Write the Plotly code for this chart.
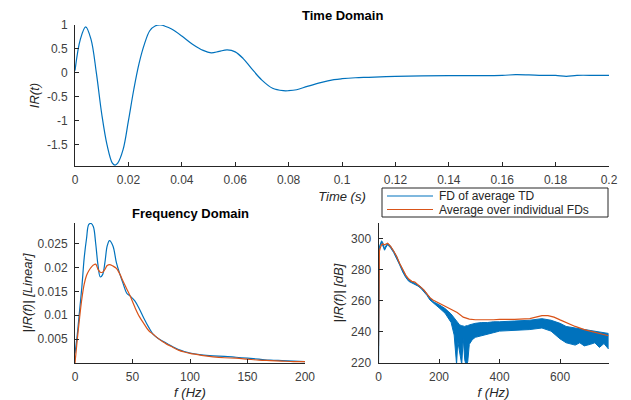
import plotly.graph_objects as go

# colours (matlab default order)
BLUE = "#0072BD"
ORANGE = "#D95319"

# time domain
t = [0, 0.002, 0.004, 0.006, 0.008, 0.010, 0.012, 0.014, 0.015, 0.016, 0.018, 0.020,
     0.022, 0.024, 0.026, 0.028, 0.030, 0.032, 0.034, 0.036, 0.040, 0.044, 0.048, 0.051,
     0.054, 0.057, 0.060, 0.063, 0.066, 0.070, 0.074, 0.078, 0.080, 0.083, 0.087, 0.092,
     0.097, 0.100, 0.105, 0.110, 0.120, 0.130, 0.140, 0.150, 0.160, 0.165, 0.170, 0.175,
     0.180, 0.184, 0.188, 0.195, 0.200]
ir_t = [0.05, 0.7, 0.96, 0.7, 0.0, -0.85, -1.5, -1.88, -1.92, -1.88, -1.6, -1.0,
        -0.35, 0.2, 0.6, 0.88, 0.98, 1.0, 0.97, 0.92, 0.77, 0.6, 0.47, 0.42,
        0.45, 0.48, 0.44, 0.3, 0.1, -0.15, -0.32, -0.37, -0.37, -0.35, -0.28, -0.2,
        -0.14, -0.12, -0.1, -0.09, -0.07, -0.06, -0.055, -0.055, -0.05, -0.035, -0.04, -0.05,
        -0.05, -0.07, -0.05, -0.05, -0.05]

# frequency domain, linear
f_lin = [0, 2, 4, 6, 8, 10, 12, 14, 16, 18, 20, 22, 24, 26, 28, 30, 33, 36, 39, 42, 45,
         48, 52, 56, 60, 64, 68, 72, 76, 80, 85, 90, 95, 100, 110, 120, 130, 140, 150,
         160, 170, 180, 190, 200]
lin_td = [0.002, 0.006, 0.011, 0.016, 0.022, 0.026, 0.029, 0.0292, 0.0285, 0.025, 0.0205,
          0.018, 0.0185, 0.021, 0.0245, 0.0256, 0.0245, 0.021, 0.0186, 0.0165, 0.0146,
          0.014, 0.013, 0.0113, 0.0093, 0.0075, 0.006, 0.0052, 0.0046, 0.0041, 0.0034,
          0.0028, 0.0024, 0.0021, 0.0017, 0.0015, 0.0014, 0.0012, 0.0010, 0.0008, 0.0006,
          0.0005, 0.0004, 0.0003]
lin_fd = [0.0, 0.005, 0.0095, 0.0135, 0.0165, 0.0183, 0.0193, 0.02, 0.0205, 0.0207, 0.0196,
          0.019, 0.019, 0.0196, 0.0204, 0.0206, 0.0203, 0.0198, 0.0186, 0.017, 0.0155,
          0.014, 0.0117, 0.0097, 0.0082, 0.0068, 0.006, 0.0052, 0.0045, 0.0039, 0.0033,
          0.0027, 0.0023, 0.0020, 0.0016, 0.0013, 0.0011, 0.0010, 0.0008, 0.0006, 0.0005,
          0.0004, 0.0003, 0.0003]

# frequency domain, dB
f_db = [0, 1, 3, 6, 10, 13, 16, 20, 25, 30, 35, 40, 50, 60, 70, 80, 90, 100, 110, 120,
        130, 140, 150, 160, 170, 180, 200, 220, 240, 250, 255, 258, 262, 268, 275, 280,
        285, 290, 295, 300, 310, 320, 340, 360, 380, 400, 450, 500, 540, 570, 600, 620,
        650, 665, 680, 700, 715, 730, 745, 760]
db_td_hi = [215, 290.5, 294.5, 296.5, 298.5, 298, 295.5, 293.5, 295.5, 297, 296, 295, 292, 288.5,
            284, 279.5, 276, 273.5, 272.5, 271.5, 270.5, 269, 267, 264.5, 261.5, 259.5, 257.5, 255,
            251.5, 249, 247.5, 246.5, 245.5, 244.5, 244, 243.5, 243.5, 244, 244, 244.5, 245,
            245.5, 246, 246, 246.5, 246.5, 247, 247.5, 248.5, 247.5, 245.5, 243.5, 242.5,
            242, 241.5, 241, 240.5, 240, 239.5, 239]
db_td_lo = [215, 289.5, 293.5, 295.5, 297.5, 297, 294.5, 292.5, 294.5, 296, 295, 294, 291, 287.5,
            283, 278.5, 275, 272.5, 271.5, 270.5, 269.5, 268, 266, 263.5, 260.5, 258.5, 255.5,
            252, 246, 238, 226, 219, 234, 228, 219, 236, 222, 218, 221, 232, 235, 236.5,
            237.5, 238.5, 239.5, 240.5, 241, 241.5, 242.5, 240.5, 235.5, 233, 231.5, 233,
            231, 232, 233, 230, 232.5, 229]
f_db2 = [0, 1, 3, 6, 10, 15, 20, 25, 30, 35, 40, 50, 60, 70, 80, 90, 100, 110, 120, 130,
         140, 150, 160, 170, 180, 200, 220, 240, 260, 280, 300, 320, 340, 360, 380, 400,
         450, 500, 520, 540, 560, 580, 600, 620, 650, 680, 700, 730, 760]
db_fd = [231, 290, 292, 294, 296, 296.5, 296, 296.5, 297, 296, 295, 292, 288.5, 284, 280,
         276.5, 274, 272.5, 272, 270.5, 269, 267, 264.5, 262, 260.5, 258.5, 256.5, 254.5,
         252.5, 249.5, 248.2, 247.8, 247.7, 247.7, 247.8, 248, 248, 248.5, 249.5, 250.5,
         250.5, 249.5, 247.7, 246, 243.5, 241.5, 240.5, 239, 237.5]

legend_names = ["FD of average TD", "Average over individual FDs"]

# page body has an 8px margin, so figure is 623x392 placed at (8, 8)
W, H, OFF = 623, 392, 8


def px(x):
    return (x - OFF) / W


def py(y):
    return 1 - (y - OFF) / H


fig = go.Figure()
fig.add_trace(go.Scatter(x=t, y=ir_t, mode="lines", line=dict(color=BLUE, width=1.2, shape="spline"),
                         xaxis="x", yaxis="y"))
fig.add_trace(go.Scatter(x=f_lin, y=lin_td, mode="lines", line=dict(color=BLUE, width=1.2, shape="spline"),
                         xaxis="x2", yaxis="y2", name=legend_names[0]))
fig.add_trace(go.Scatter(x=f_lin, y=lin_fd, mode="lines", line=dict(color=ORANGE, width=1.2, shape="spline"),
                         xaxis="x2", yaxis="y2", name=legend_names[1]))
# noisy blue band drawn as envelope
fig.add_trace(go.Scatter(x=f_db + f_db[::-1], y=db_td_hi + db_td_lo[::-1], mode="lines",
                         fill="toself", fillcolor=BLUE, line=dict(color=BLUE, width=1),
                         xaxis="x3", yaxis="y3"))
fig.add_trace(go.Scatter(x=f_db2, y=db_fd, mode="lines", line=dict(color=ORANGE, width=1.2),
                         xaxis="x3", yaxis="y3"))

ax = dict(showline=True, linecolor="#262626", linewidth=1, ticks="inside", ticklen=4,
          tickcolor="#262626", showgrid=False, zeroline=False, mirror=False, automargin=False,
          tickfont=dict(size=12, color="#404040"))
xax = dict(ax, ticklabelstandoff=3)
yax = dict(ax, ticklabelstandoff=4)
tf = dict(size=13, color="#262626")

# legend drawn by hand (matlab style compact box)
shapes = [dict(type="rect", xref="paper", yref="paper", x0=px(382), x1=px(608), y0=py(217), y1=py(188),
               line=dict(color="#262626", width=1), fillcolor="white", layer="above")]
annotations = [
    dict(text="<b>Time Domain</b>", x=px(342), y=py(15), xref="paper", yref="paper",
         showarrow=False, font=dict(size=13, color="black"), xanchor="center", yanchor="middle"),
    dict(text="<b>Frequency Domain</b>", x=px(190), y=py(213), xref="paper", yref="paper",
         showarrow=False, font=dict(size=13, color="black"), xanchor="center", yanchor="middle"),
]
for i, (name, col) in enumerate(zip(legend_names, [BLUE, ORANGE])):
    yy = py(196 + 13.5 * i)
    shapes.append(dict(type="line", xref="paper", yref="paper", x0=px(387), x1=px(433), y0=yy, y1=yy,
                       line=dict(color=col, width=1.2), layer="above"))
    annotations.append(dict(text=name, x=px(437), y=yy, xref="paper", yref="paper", showarrow=False,
                            xanchor="left", yanchor="middle", font=dict(size=12, color="#262626")))

fig.update_layout(
    template="none", showlegend=False,
    width=W, height=H, margin=dict(l=0, r=0, t=0, b=0, autoexpand=False),
    paper_bgcolor="white", plot_bgcolor="white",
    font=dict(family="Liberation Sans, Arial, sans-serif", color="#262626"),
    xaxis=dict(xax, domain=[px(75), px(609)], anchor="y", range=[0, 0.2], dtick=0.02,
               title=dict(text="<i>Time (s)</i>", font=tf, standoff=5)),
    yaxis=dict(yax, domain=[py(166), py(25)], anchor="x", range=[-1.94, 1.0],
               tickvals=[-1.5, -1, -0.5, 0, 0.5, 1],
               ticktext=["-1.5", "-1", "-0.5", "0", "0.5", "1"],
               title=dict(text="<i>IR(t)</i>", font=tf, standoff=4)),
    xaxis2=dict(xax, domain=[px(75), px(305)], anchor="y2", range=[0, 200], dtick=50,
                title=dict(text="<i>f (Hz)</i>", font=tf, standoff=6)),
    yaxis2=dict(yax, domain=[py(363), py(223)], anchor="x2", range=[0, 0.0293],
                tickvals=[0.005, 0.01, 0.015, 0.02, 0.025],
                title=dict(text="<i>|IR(f)| [Linear]</i>", font=tf, standoff=2)),
    xaxis3=dict(xax, domain=[px(378.5), px(608.5)], anchor="y3", range=[0, 760],
                tickvals=[0, 200, 400, 600],
                title=dict(text="<i>f (Hz)</i>", font=tf, standoff=6)),
    yaxis3=dict(yax, domain=[py(363), py(223)], anchor="x3", range=[220, 310],
                tickvals=[220, 240, 260, 280, 300],
                title=dict(text="<i>|IR(f)| [dB]</i>", font=tf, standoff=4)),
    shapes=shapes,
    annotations=annotations,
)

fig.write_html("out.html")
